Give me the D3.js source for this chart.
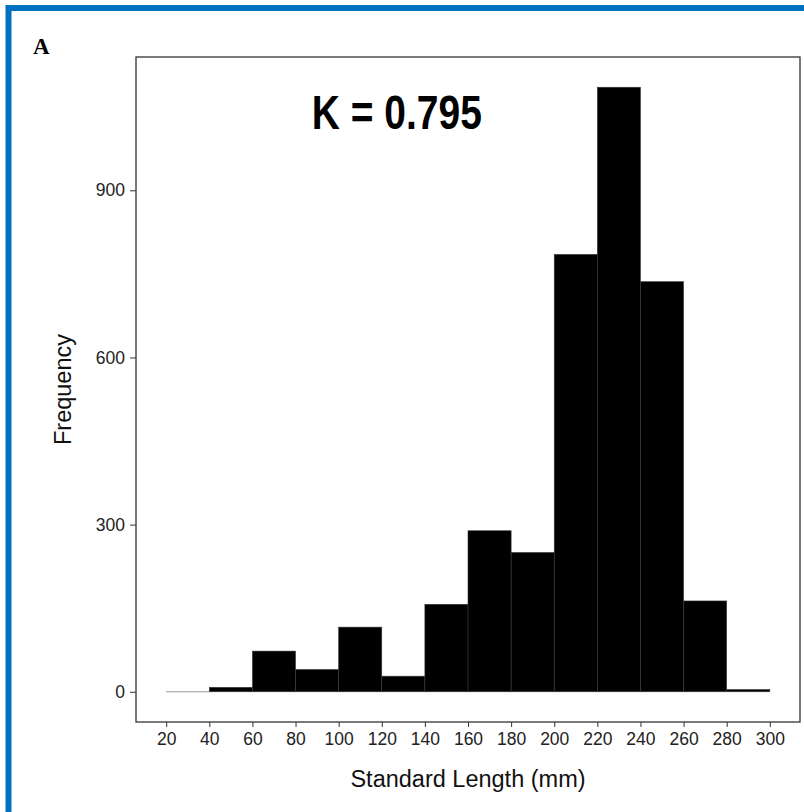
<!DOCTYPE html>
<html>
<head>
<meta charset="utf-8">
<script src="https://cdn.jsdelivr.net/npm/d3@7"></script>
<style>
  body { margin: 0; background: #fff; }
  svg { display: block; }
</style>
</head>
<body>
<svg id="svg1" width="804" height="812"></svg>
<script>
// histogram bins (mm) and counts
var binStarts = [20, 40, 60, 80, 100, 120, 140, 160, 180, 200, 220, 240, 260, 280];
var binWidth = 20;
var counts = [0, 8, 73, 40, 116, 28, 157, 289, 250, 785, 1085, 736, 163, 4];
var xTicks = [20, 40, 60, 80, 100, 120, 140, 160, 180, 200, 220, 240, 260, 280, 300];
var yTicks = [0, 300, 600, 900];

var svg = d3.select('#svg1');

// blue frame of the figure
svg.append('rect')
    .attr('x', 8.5).attr('y', 8)
    .attr('width', 830).attr('height', 830)
    .attr('fill', 'none')
    .attr('stroke', '#0070c0')
    .attr('stroke-width', 6);

svg.append('text')
    .attr('x', 33).attr('y', 54)
    .attr('font-family', 'Liberation Serif, Times New Roman, serif')
    .attr('font-weight', 'bold')
    .attr('font-size', 23)
    .text('A');

var panel = {left: 136, right: 800, top: 57, bottom: 722};

// ggplot-like 5% expansion on both axes
var scaleX = d3.scaleLinear().domain([6, 314]).range([panel.left, panel.right]);
var maxY = d3.max(counts);
var scaleY = d3.scaleLinear().domain([-0.05 * maxY, 1.05 * maxY]).range([panel.bottom, panel.top]);

var g = svg.append('g');

// bars
g.selectAll('.bar')
    .data(binStarts)
    .enter()
    .append('rect')
    .attr('class', 'bar')
    .attr('x', function(d){ return scaleX(d); })
    .attr('width', function(d){ return scaleX(d + binWidth) - scaleX(d); })
    .attr('y', function(d, i){ return scaleY(counts[i]); })
    .attr('height', function(d, i){ return scaleY(0) - scaleY(counts[i]); })
    .attr('fill', '#000')
    .attr('stroke', '#3a3a3a')
    .attr('stroke-width', 0.6);

// empty bin drawn as a thin gray line
g.selectAll('.zero')
    .data(binStarts.filter(function(d, i){ return counts[i] === 0; }))
    .enter()
    .append('line')
    .attr('x1', function(d){ return scaleX(d); })
    .attr('x2', function(d){ return scaleX(d + binWidth); })
    .attr('y1', scaleY(0)).attr('y2', scaleY(0))
    .attr('stroke', '#999')
    .attr('stroke-width', 1);

// panel border
svg.append('rect')
    .attr('x', panel.left).attr('y', panel.top)
    .attr('width', panel.right - panel.left)
    .attr('height', panel.bottom - panel.top)
    .attr('fill', 'none')
    .attr('stroke', '#333')
    .attr('stroke-width', 1.3);

// axes
var xAxis = svg.append('g')
    .attr('transform', 'translate(0,' + panel.bottom + ')')
    .call(d3.axisBottom(scaleX).tickValues(xTicks).tickSize(5).tickPadding(6));
var yAxis = svg.append('g')
    .attr('transform', 'translate(' + panel.left + ',0)')
    .call(d3.axisLeft(scaleY).tickValues(yTicks).tickSize(6).tickPadding(5));

[xAxis, yAxis].forEach(function(ax){
    ax.select('.domain').remove();
    ax.selectAll('.tick line').attr('stroke', '#333');
    ax.selectAll('.tick text')
        .attr('fill', '#222')
        .attr('font-family', 'Liberation Sans, Arial, sans-serif')
        .attr('font-size', 17.5);
});

svg.append('text')
    .attr('x', (panel.left + panel.right) / 2)
    .attr('y', 787)
    .attr('text-anchor', 'middle')
    .attr('font-family', 'Liberation Sans, Arial, sans-serif')
    .attr('font-size', 23.5)
    .attr('fill', '#111')
    .text('Standard Length (mm)');

svg.append('text')
    .attr('transform', 'translate(71,' + ((panel.top + panel.bottom) / 2) + ') rotate(-90)')
    .attr('text-anchor', 'middle')
    .attr('font-family', 'Liberation Sans, Arial, sans-serif')
    .attr('font-size', 23.5)
    .attr('fill', '#111')
    .text('Frequency');

// annotation
svg.append('text')
    .attr('x', scaleX(127))
    .attr('y', scaleY(1010))
    .attr('text-anchor', 'middle')
    .attr('font-family', 'Liberation Sans Narrow, Liberation Sans, Arial, sans-serif')
    .attr('font-weight', 'bold')
    .attr('font-size', 48)
    .attr('textLength', 170)
    .attr('lengthAdjust', 'spacingAndGlyphs')
    .text('K = 0.795');
</script>
</body>
</html>
